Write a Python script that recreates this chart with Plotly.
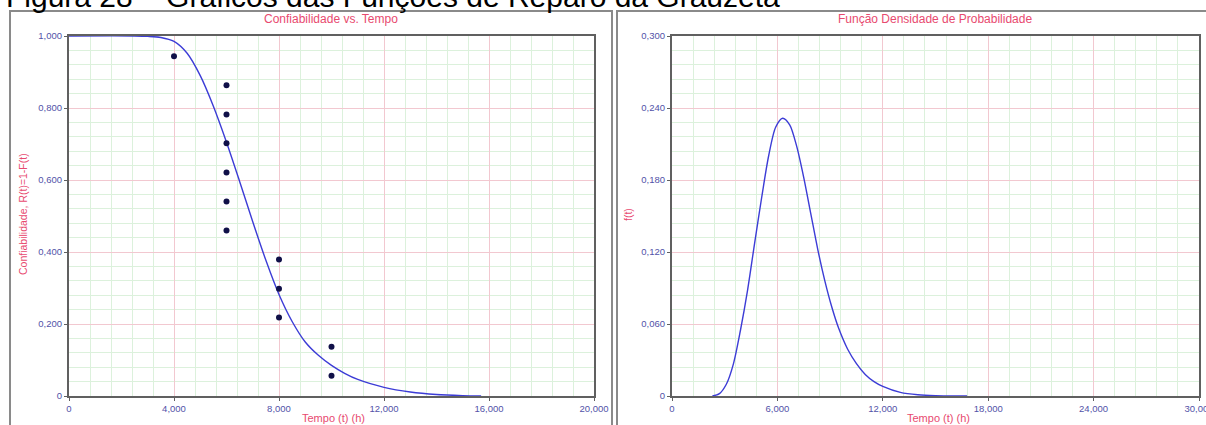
import plotly.graph_objects as go

W, H = 1206, 425

# ---------------- data ----------------
rel_t = [0, 2500, 3000, 3500, 4000, 4500, 5000, 5500, 6000, 6500, 7000, 7500,
         8000, 8500, 9000, 9500, 10000, 10500, 11000, 12000, 13000, 14000, 15000, 15700]
rel_R = [1.000, 1.000, 0.999, 0.996, 0.985, 0.952, 0.890, 0.805, 0.705, 0.596, 0.484, 0.377,
         0.282, 0.207, 0.150, 0.113, 0.085, 0.063, 0.046, 0.024, 0.011, 0.004, 0.001, 0.000]

pts_t = [4000, 6000, 6000, 6000, 6000, 6000, 6000, 8000, 8000, 8000, 10000, 10000]
pts_R = [0.944, 0.863, 0.782, 0.702, 0.621, 0.540, 0.460, 0.379, 0.298, 0.218, 0.137, 0.056]

pdf_t = [2300, 2700, 3100, 3500, 3900, 4300, 4700, 5100, 5500, 5900, 6300, 6700, 7100,
         7500, 7900, 8300, 8700, 9100, 9500, 10000, 10500, 11000, 11500, 12000, 13000,
         14000, 15000, 16800]
pdf_f = [0.000, 0.002, 0.010, 0.027, 0.055, 0.088, 0.127, 0.165, 0.200, 0.224, 0.2315, 0.226,
         0.208, 0.182, 0.152, 0.122, 0.096, 0.074, 0.056, 0.039, 0.027, 0.018, 0.012, 0.008,
         0.003, 0.001, 0.0003, 0.000]

left_xticks = [0, 4000, 8000, 12000, 16000, 20000]
left_xlabels = ["0", "4,000", "8,000", "12,000", "16,000", "20,000"]
left_yticks = [0, 0.2, 0.4, 0.6, 0.8, 1.0]
left_ylabels = ["0", "0,200", "0,400", "0,600", "0,800", "1,000"]

right_xticks = [0, 6000, 12000, 18000, 24000, 30000]
right_xlabels = ["0", "6,000", "12,000", "18,000", "24,000", "30,000"]
right_yticks = [0, 0.06, 0.12, 0.18, 0.24, 0.30]
right_ylabels = ["0", "0,060", "0,120", "0,180", "0,240", "0,300"]

fig_title = "Figura 28 – Gráficos das Funções de Reparo da Grauzeta"
left_title = "Confiabilidade vs. Tempo"
right_title = "Função Densidade de Probabilidade"
left_ytitle = "Confiabilidade, R(t)=1-F(t)"
right_ytitle = "f(t)"
xtitle = "Tempo (t) (h)"

# ---------------- styling ----------------
FONT = "Liberation Sans, Arial, sans-serif"
RED = "#e84a6f"
TICK = "#5252a8"
CURVE = "#3c3cd6"
DOT = "#101048"
MAJ = "#f2c8d0"
MIN = "#dcf1dc"
AX = "#606060"

def px(x):
    return x / W

def py(y):
    return 1 - y / H

fig = go.Figure()
fig.add_trace(go.Scatter(x=rel_t, y=rel_R, mode="lines", line=dict(color=CURVE, width=1.4, shape="spline", smoothing=0.8),
                         xaxis="x", yaxis="y", showlegend=False, hoverinfo="skip"))
fig.add_trace(go.Scatter(x=pts_t, y=pts_R, mode="markers", marker=dict(color=DOT, size=6),
                         xaxis="x", yaxis="y", showlegend=False))
fig.add_trace(go.Scatter(x=pdf_t, y=pdf_f, mode="lines", line=dict(color=CURVE, width=1.4, shape="spline", smoothing=0.8),
                         xaxis="x2", yaxis="y2", showlegend=False, hoverinfo="skip"))

def axis(dom, rng, tv, tt, minor_dtick, anchor):
    return dict(domain=dom, range=rng, tickvals=tv, ticktext=tt, showgrid=True, gridcolor=MAJ, gridwidth=1,
                minor=dict(dtick=minor_dtick, tick0=0, showgrid=True, gridcolor=MIN, gridwidth=1, ticks=""),
                showline=True, linecolor=AX, linewidth=2, mirror=True, zeroline=False, anchor=anchor,
                ticks="outside", ticklen=3, tickcolor=AX, tickfont=dict(family=FONT, size=9.5, color=TICK),
                ticklabeloverflow="allow", automargin=False, fixedrange=True)

ydom = [py(396), py(36)]
fig.update_layout(
    width=W, height=H, autosize=False,
    margin=dict(l=0, r=0, t=0, b=0, pad=0),
    paper_bgcolor="white", plot_bgcolor="white",
    xaxis=axis([px(69), px(594)], [0, 20000], left_xticks, left_xlabels, 800, "y"),
    yaxis=axis(ydom, [0, 1.0], left_yticks, left_ylabels, 0.04, "x"),
    xaxis2=axis([px(672), px(1199)], [0, 30000], right_xticks, right_xlabels, 1200, "y2"),
    yaxis2=axis(ydom, [0, 0.3], right_yticks, right_ylabels, 0.012, "x2"),
)

shapes = [
    dict(type="rect", xref="paper", yref="paper", x0=px(10), x1=px(612), y0=py(460), y1=py(11),
         line=dict(color="#8a8a8a", width=2), layer="below"),
    dict(type="rect", xref="paper", yref="paper", x0=px(617), x1=px(1230), y0=py(460), y1=py(11),
         line=dict(color="#8a8a8a", width=2), layer="below"),
]
fig.update_layout(shapes=shapes)

ann = [
    dict(text=fig_title, x=px(4), y=py(15), xref="paper", yref="paper", xanchor="left", yanchor="bottom",
         showarrow=False, font=dict(family=FONT, size=30, color="black")),
    dict(text=left_title, x=px(331), y=py(19), xref="paper", yref="paper", xanchor="center", yanchor="middle",
         showarrow=False, font=dict(family=FONT, size=12, color=RED)),
    dict(text=right_title, x=px(935), y=py(19), xref="paper", yref="paper", xanchor="center", yanchor="middle",
         showarrow=False, font=dict(family=FONT, size=12, color=RED)),
    dict(text=left_ytitle, x=px(23), y=py(214), xref="paper", yref="paper", xanchor="center", yanchor="middle",
         textangle=-90, showarrow=False, font=dict(family=FONT, size=10.5, color=RED)),
    dict(text=right_ytitle, x=px(628), y=py(215), xref="paper", yref="paper", xanchor="center", yanchor="middle",
         textangle=-90, showarrow=False, font=dict(family=FONT, size=10.5, color=RED)),
    dict(text=xtitle, x=px(333), y=py(418), xref="paper", yref="paper", xanchor="center", yanchor="middle",
         showarrow=False, font=dict(family=FONT, size=11, color=RED)),
    dict(text=xtitle, x=px(938), y=py(418), xref="paper", yref="paper", xanchor="center", yanchor="middle",
         showarrow=False, font=dict(family=FONT, size=11, color=RED)),
]
fig.update_layout(annotations=ann)

fig.write_html("out.html")
